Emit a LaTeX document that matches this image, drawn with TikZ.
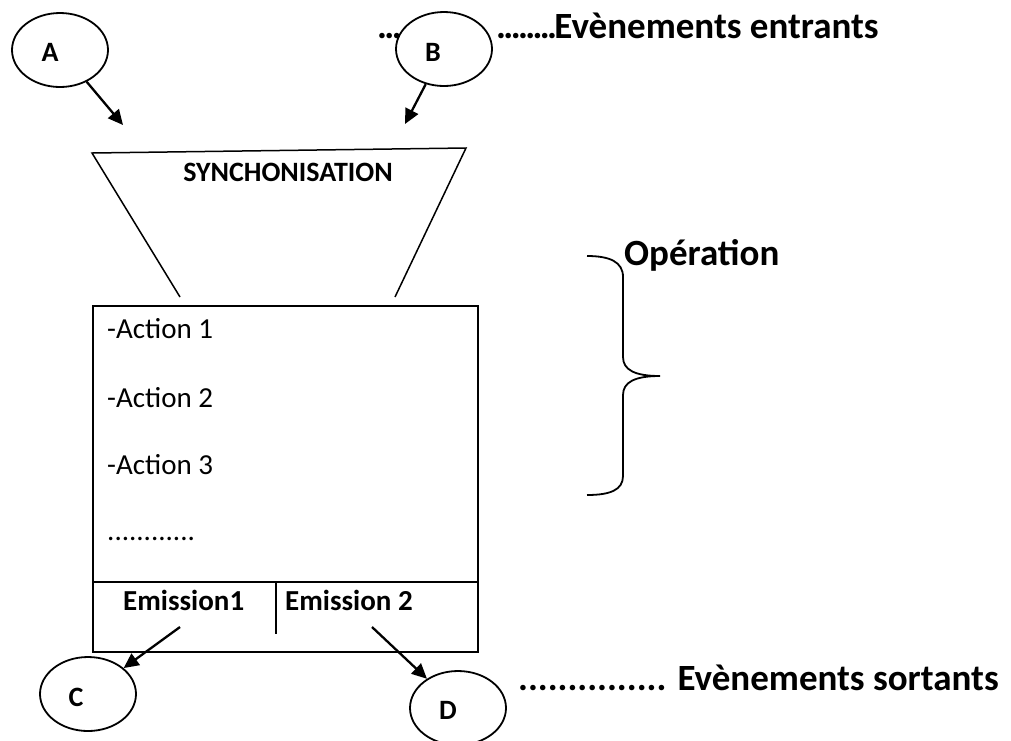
\documentclass[tikz,border=0pt]{standalone}
\usepackage{fontspec}
\setmainfont{Carlito}
\usetikzlibrary{arrows.meta,shapes.geometric}
\newcommand{\dts}{.\kern-2.6pt}
\begin{document}
\begin{tikzpicture}[x=1pt,y=-1pt,
  ev/.style={draw,ellipse,line width=1.8pt,fill=white,inner sep=0pt,minimum width=96pt,minimum height=74pt},
  lbl/.style={inner sep=0pt,font=\fontsize{28}{32}\selectfont\bfseries},
  body/.style={inner sep=0pt,anchor=base west,font=\fontsize{29}{33}\selectfont},
  big/.style={inner sep=0pt,anchor=base west,font=\fontsize{37}{42}\selectfont\bfseries},
  arr/.style={line width=2.3pt,-{Triangle[length=15pt,width=14pt]}},
  thin/.style={line width=1.5pt},
  frame/.style={line width=2.4pt}
]
\useasboundingbox (0,0) rectangle (1011,740);
% incoming events text
\node[big] (entr0) at (377,38) {\dts\dts\dts};
\node[big] (entr) at (496,38) {\dts\dts\dts\dts\dts\dts\dts\dts Evènements entrants};
% ellipses
\node[ev] (A) at (60,50) {};
\node[lbl] (Al) at (50,52) {A};
\node[ev] (B) at (444,49) {};
\node[lbl] (Bl) at (433,52) {B};
% synchronisation funnel
\coordinate (t1) at (92,153);
\coordinate (t2) at (466,148);
\coordinate (t3) at (395,297);
\coordinate (t4) at (180,297);
\draw[thin] (t4) -- (t1) -- (t2) -- (t3);
\node[lbl,anchor=base] (sync) at (288,181) {SYNCHONISATION};
\coordinate (ina) at (123,125);
\coordinate (inb) at (405,124);
\draw[arr] (A) -- (ina);
\draw[arr] (B) -- (inb);
% operation box
\coordinate (r1) at (93,306);
\coordinate (r2) at (478,652);
\draw[frame] (r1) rectangle (r2);
\coordinate (d1) at (93,582);
\coordinate (d2) at (478,582);
\draw[frame] (d1) -- (d2);
\coordinate (v1) at (276,582);
\coordinate (v2) at (276,634);
\draw[line width=2pt] (v1) -- (v2);
\node[body] (act1) at (107,338) {-Action 1};
\node[body] (act2) at (107,407) {-Action 2};
\node[body] (act3) at (107,474) {-Action 3};
\node[body] (actd) at (107,540) {............};
\node[lbl,anchor=base west,font=\fontsize{29}{33}\selectfont\bfseries] (em1) at (123,610) {Emission1};
\node[lbl,anchor=base west,font=\fontsize{29}{33}\selectfont\bfseries] (em2) at (285,610) {Emission 2};
% brace
\draw[line width=1.8pt] (587,256) .. controls (610,256) and (623,262) .. (623,277) -- (623,357)
  .. controls (623,370) and (635,376) .. (660,376)
  .. controls (635,376) and (623,382) .. (623,395) -- (623,476)
  .. controls (623,490) and (610,495) .. (587,495);
\node[big] (op) at (624,265) {Opération};
% outgoing
\node[ev] (C) at (88,694) {};
\node[lbl] (Cl) at (76,697) {C};
\node[ev] (D) at (458,708) {};
\node[lbl] (Dl) at (448,710) {D};
\coordinate (e1) at (180,627);
\coordinate (e2) at (372,627);
\draw[arr] (e1) -- (C);
\draw[arr] (e2) -- (D);
\node[big] (sort) at (518,690) {............... Evènements sortants};
\end{tikzpicture}
\end{document}
